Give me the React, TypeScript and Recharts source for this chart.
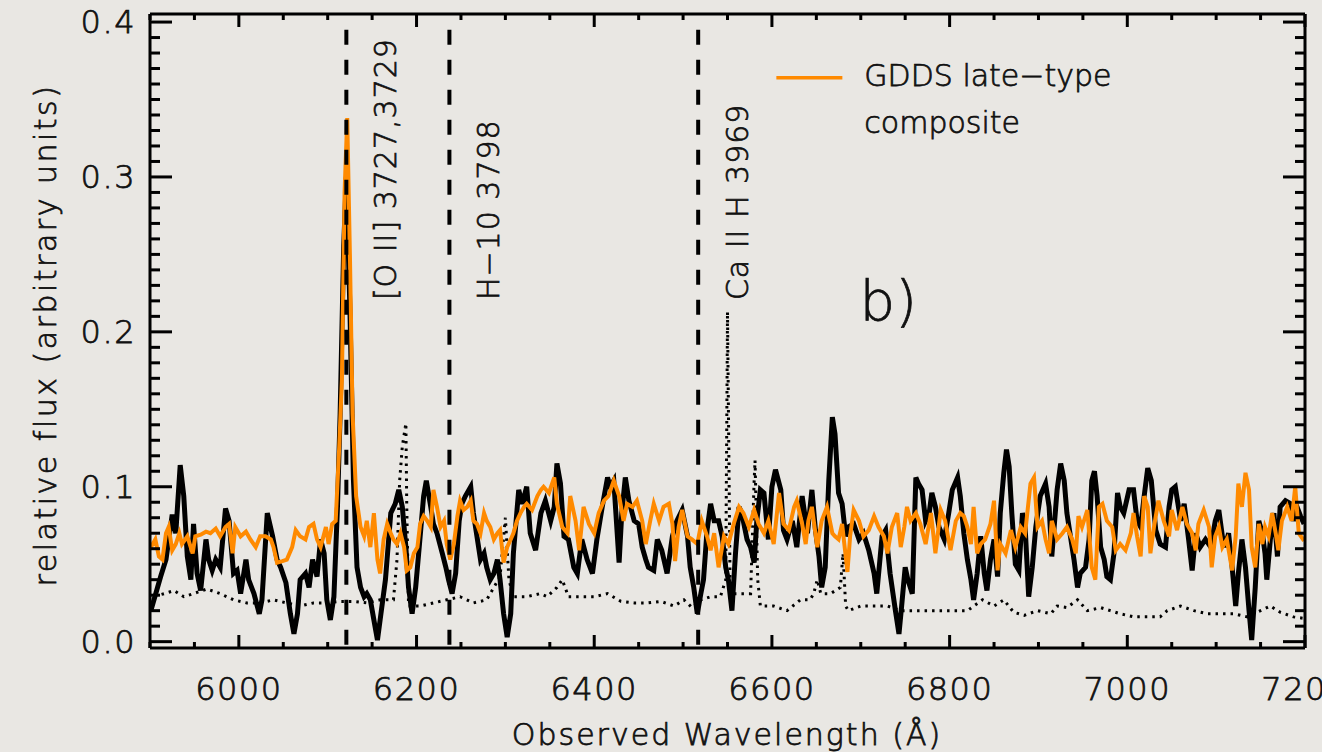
import React from "react";
import { LineChart, Line, XAxis, YAxis, ReferenceLine, ReferenceDot } from "recharts";

const FONT = "'DejaVu Sans', sans-serif";
const INK = "#111";
const ORANGE = "#ff8a00";
const PAPER = "#e9e7e3";

const X_DOMAIN: [number, number] = [5900, 7200];
const Y_DOMAIN: [number, number] = [-0.0041, 0.4052];

const X_TICKS = [
  5900, 5950, 6000, 6050, 6100, 6150, 6200, 6250, 6300, 6350, 6400, 6450, 6500, 6550,
  6600, 6650, 6700, 6750, 6800, 6850, 6900, 6950, 7000, 7050, 7100, 7150, 7200,
];
const X_LABELS = [6000, 6200, 6400, 6600, 6800, 7000, 7200];
const Y_TICKS = [
  0, 0.01, 0.02, 0.03, 0.04, 0.05, 0.06, 0.07, 0.08, 0.09, 0.1, 0.11, 0.12, 0.13, 0.14,
  0.15, 0.16, 0.17, 0.18, 0.19, 0.2, 0.21, 0.22, 0.23, 0.24, 0.25, 0.26, 0.27, 0.28,
  0.29, 0.3, 0.31, 0.32, 0.33, 0.34, 0.35, 0.36, 0.37, 0.38, 0.39, 0.4,
];
const Y_LABELS = [0, 0.1, 0.2, 0.3, 0.4];

// observed spectrum (thick black), [wavelength, flux]
const observed: [number, number][] = [
  [5901, 0.020], [5912, 0.042], [5918, 0.053], [5925, 0.082], [5929, 0.070], [5934, 0.114],
  [5938, 0.094], [5942, 0.055], [5946, 0.040], [5949, 0.076], [5953, 0.044], [5957, 0.033],
  [5963, 0.066], [5966, 0.053], [5970, 0.046], [5974, 0.053], [5979, 0.048], [5985, 0.086],
  [5989, 0.078], [5994, 0.044], [5998, 0.046], [6002, 0.031], [6008, 0.053], [6011, 0.040],
  [6017, 0.031], [6023, 0.018], [6026, 0.027], [6032, 0.083], [6038, 0.068], [6043, 0.053],
  [6047, 0.048], [6053, 0.038], [6058, 0.018], [6062, 0.005], [6066, 0.018], [6069, 0.040],
  [6075, 0.044], [6079, 0.035], [6083, 0.053], [6088, 0.042], [6092, 0.066], [6096, 0.057],
  [6099, 0.027], [6103, 0.014], [6107, 0.029], [6111, 0.087], [6114, 0.147], [6118, 0.255],
  [6121, 0.300], [6125, 0.215], [6129, 0.104], [6133, 0.048], [6137, 0.035], [6141, 0.029],
  [6144, 0.031], [6148, 0.027], [6152, 0.014], [6156, 0.001], [6159, 0.014], [6165, 0.040],
  [6171, 0.083], [6176, 0.089], [6180, 0.098], [6184, 0.087], [6188, 0.061], [6191, 0.035],
  [6195, 0.018], [6199, 0.035], [6203, 0.061], [6208, 0.094], [6211, 0.104], [6216, 0.087],
  [6219, 0.076], [6223, 0.070], [6229, 0.057], [6233, 0.048], [6236, 0.040], [6240, 0.031],
  [6244, 0.044], [6248, 0.078], [6251, 0.089], [6255, 0.094], [6261, 0.100], [6264, 0.083],
  [6268, 0.068], [6272, 0.053], [6276, 0.057], [6279, 0.048], [6283, 0.040], [6287, 0.044],
  [6291, 0.053], [6294, 0.040], [6298, 0.018], [6302, 0.003], [6306, 0.018], [6309, 0.057],
  [6315, 0.098], [6319, 0.089], [6324, 0.100], [6328, 0.070], [6334, 0.059], [6340, 0.083],
  [6345, 0.091], [6351, 0.078], [6355, 0.087], [6358, 0.115], [6362, 0.102], [6366, 0.068],
  [6371, 0.066], [6377, 0.048], [6381, 0.044], [6386, 0.066], [6392, 0.053], [6398, 0.044],
  [6403, 0.066], [6409, 0.087], [6415, 0.106], [6418, 0.100], [6422, 0.104], [6428, 0.051],
  [6431, 0.083], [6435, 0.106], [6439, 0.091], [6445, 0.078], [6450, 0.076], [6454, 0.061],
  [6458, 0.053], [6461, 0.048], [6467, 0.046], [6471, 0.066], [6476, 0.059], [6482, 0.044],
  [6488, 0.068], [6493, 0.078], [6499, 0.085], [6505, 0.068], [6508, 0.048], [6512, 0.035],
  [6516, 0.018], [6520, 0.031], [6523, 0.040], [6527, 0.072], [6531, 0.089], [6535, 0.078],
  [6540, 0.078], [6544, 0.068], [6548, 0.048], [6551, 0.040], [6555, 0.020], [6559, 0.057],
  [6563, 0.087], [6566, 0.083], [6572, 0.066], [6576, 0.061], [6580, 0.051], [6583, 0.078],
  [6587, 0.098], [6591, 0.096], [6596, 0.066], [6600, 0.100], [6604, 0.111], [6610, 0.098],
  [6613, 0.072], [6617, 0.066], [6623, 0.078], [6628, 0.061], [6634, 0.094], [6640, 0.070],
  [6645, 0.098], [6649, 0.072], [6653, 0.055], [6656, 0.035], [6660, 0.048], [6664, 0.104],
  [6668, 0.145], [6671, 0.134], [6675, 0.096], [6679, 0.089], [6683, 0.068], [6686, 0.074],
  [6692, 0.076], [6698, 0.066], [6703, 0.070], [6709, 0.059], [6715, 0.044], [6718, 0.031],
  [6724, 0.068], [6728, 0.072], [6733, 0.044], [6739, 0.020], [6743, 0.005], [6746, 0.023],
  [6750, 0.048], [6753, 0.040], [6758, 0.031], [6762, 0.106], [6765, 0.102], [6769, 0.098],
  [6773, 0.078], [6777, 0.083], [6780, 0.096], [6784, 0.087], [6788, 0.074], [6794, 0.066],
  [6799, 0.083], [6803, 0.098], [6809, 0.106], [6812, 0.094], [6816, 0.070], [6820, 0.053],
  [6824, 0.040], [6827, 0.027], [6831, 0.044], [6835, 0.068], [6839, 0.044], [6842, 0.033],
  [6846, 0.053], [6850, 0.066], [6854, 0.042], [6857, 0.083], [6861, 0.109], [6864, 0.124],
  [6867, 0.113], [6870, 0.083], [6874, 0.050], [6878, 0.046], [6882, 0.083], [6885, 0.074],
  [6889, 0.029], [6893, 0.048], [6897, 0.074], [6902, 0.094], [6908, 0.102], [6912, 0.087],
  [6915, 0.055], [6921, 0.098], [6925, 0.115], [6929, 0.104], [6932, 0.083], [6936, 0.068],
  [6940, 0.053], [6944, 0.035], [6947, 0.044], [6953, 0.048], [6957, 0.066], [6960, 0.104],
  [6963, 0.110], [6966, 0.094], [6970, 0.061], [6974, 0.053], [6977, 0.042], [6981, 0.040],
  [6985, 0.057], [6989, 0.096], [6992, 0.087], [6996, 0.083], [7002, 0.098], [7007, 0.098],
  [7011, 0.078], [7015, 0.074], [7019, 0.094], [7023, 0.112], [7027, 0.104], [7032, 0.072],
  [7037, 0.063], [7043, 0.061], [7047, 0.087], [7050, 0.098], [7054, 0.100], [7060, 0.078],
  [7064, 0.089], [7069, 0.066], [7073, 0.046], [7077, 0.070], [7082, 0.061], [7088, 0.066],
  [7094, 0.061], [7099, 0.078], [7103, 0.085], [7107, 0.068], [7110, 0.061], [7114, 0.070],
  [7118, 0.048], [7122, 0.023], [7125, 0.044], [7129, 0.066], [7133, 0.048], [7137, 0.020],
  [7140, 0.001], [7144, 0.035], [7148, 0.078], [7152, 0.070], [7155, 0.057], [7157, 0.040],
  [7161, 0.066], [7165, 0.083], [7169, 0.055], [7172, 0.087], [7178, 0.091], [7184, 0.089],
  [7187, 0.078], [7191, 0.087], [7195, 0.081], [7199, 0.076],
];

// GDDS late-type composite (orange)
const composite: [number, number][] = [
  [5901, 0.061], [5906, 0.066], [5910, 0.055], [5914, 0.053], [5918, 0.070], [5921, 0.074],
  [5925, 0.059], [5929, 0.063], [5933, 0.070], [5936, 0.063], [5942, 0.068], [5948, 0.057],
  [5951, 0.068], [5957, 0.069], [5963, 0.071], [5968, 0.070], [5974, 0.073], [5979, 0.068],
  [5985, 0.074], [5989, 0.076], [5993, 0.057], [5996, 0.074], [6002, 0.068], [6008, 0.071],
  [6013, 0.066], [6019, 0.061], [6024, 0.068], [6030, 0.068], [6036, 0.066], [6039, 0.061],
  [6043, 0.051], [6049, 0.052], [6054, 0.053], [6060, 0.061], [6064, 0.072], [6069, 0.068],
  [6075, 0.066], [6079, 0.074], [6084, 0.076], [6088, 0.066], [6092, 0.061], [6098, 0.074],
  [6101, 0.063], [6105, 0.076], [6109, 0.078], [6113, 0.126], [6116, 0.169], [6119, 0.290],
  [6122, 0.338], [6125, 0.250], [6128, 0.147], [6132, 0.094], [6137, 0.074], [6141, 0.068],
  [6144, 0.078], [6148, 0.061], [6152, 0.083], [6156, 0.053], [6159, 0.044], [6163, 0.066],
  [6167, 0.076], [6171, 0.070], [6174, 0.066], [6178, 0.063], [6182, 0.070], [6186, 0.061],
  [6189, 0.046], [6193, 0.048], [6197, 0.057], [6201, 0.061], [6204, 0.076], [6208, 0.081],
  [6212, 0.078], [6216, 0.074], [6219, 0.098], [6223, 0.087], [6227, 0.074], [6231, 0.078],
  [6234, 0.063], [6238, 0.053], [6242, 0.063], [6246, 0.081], [6249, 0.091], [6253, 0.085],
  [6257, 0.087], [6261, 0.091], [6264, 0.078], [6268, 0.076], [6272, 0.070], [6276, 0.083],
  [6279, 0.078], [6283, 0.074], [6287, 0.066], [6291, 0.070], [6294, 0.072], [6298, 0.051],
  [6302, 0.061], [6306, 0.066], [6309, 0.070], [6313, 0.078], [6317, 0.083], [6321, 0.087],
  [6324, 0.089], [6330, 0.085], [6336, 0.094], [6340, 0.098], [6343, 0.100], [6349, 0.096],
  [6355, 0.106], [6358, 0.089], [6364, 0.074], [6370, 0.070], [6373, 0.094], [6379, 0.078],
  [6383, 0.059], [6388, 0.087], [6394, 0.076], [6400, 0.070], [6405, 0.083], [6411, 0.091],
  [6416, 0.094], [6422, 0.104], [6428, 0.094], [6433, 0.078], [6437, 0.089], [6443, 0.087],
  [6448, 0.091], [6454, 0.078], [6458, 0.063], [6463, 0.078], [6467, 0.089], [6473, 0.078],
  [6478, 0.087], [6484, 0.089], [6488, 0.076], [6491, 0.052], [6495, 0.074], [6499, 0.085],
  [6505, 0.068], [6510, 0.066], [6516, 0.063], [6521, 0.078], [6527, 0.068], [6531, 0.059],
  [6535, 0.070], [6540, 0.048], [6546, 0.068], [6551, 0.063], [6557, 0.076], [6563, 0.087],
  [6568, 0.083], [6574, 0.074], [6580, 0.085], [6585, 0.076], [6591, 0.070], [6596, 0.078],
  [6602, 0.063], [6608, 0.096], [6613, 0.076], [6619, 0.072], [6625, 0.087], [6628, 0.091],
  [6634, 0.076], [6638, 0.063], [6641, 0.078], [6645, 0.087], [6651, 0.061], [6656, 0.078],
  [6662, 0.087], [6668, 0.070], [6671, 0.068], [6675, 0.066], [6679, 0.076], [6685, 0.045],
  [6688, 0.068], [6692, 0.085], [6698, 0.078], [6703, 0.068], [6709, 0.072], [6715, 0.081],
  [6720, 0.074], [6726, 0.068], [6730, 0.057], [6735, 0.074], [6741, 0.083], [6745, 0.061],
  [6749, 0.074], [6752, 0.087], [6756, 0.078], [6762, 0.083], [6767, 0.076], [6773, 0.063],
  [6779, 0.083], [6784, 0.057], [6790, 0.085], [6795, 0.078], [6801, 0.059], [6807, 0.078],
  [6812, 0.083], [6816, 0.081], [6820, 0.074], [6824, 0.063], [6827, 0.087], [6831, 0.057],
  [6835, 0.063], [6840, 0.066], [6846, 0.076], [6850, 0.091], [6854, 0.046], [6857, 0.063],
  [6863, 0.057], [6869, 0.072], [6874, 0.061], [6880, 0.074], [6885, 0.070], [6891, 0.102],
  [6895, 0.106], [6899, 0.074], [6904, 0.078], [6908, 0.066], [6912, 0.057], [6915, 0.078],
  [6921, 0.066], [6927, 0.070], [6932, 0.074], [6938, 0.066], [6942, 0.057], [6945, 0.081],
  [6949, 0.074], [6955, 0.085], [6960, 0.048], [6964, 0.040], [6968, 0.087], [6972, 0.089],
  [6977, 0.078], [6983, 0.074], [6987, 0.059], [6992, 0.063], [6998, 0.059], [7004, 0.070],
  [7007, 0.083], [7011, 0.068], [7015, 0.055], [7019, 0.094], [7023, 0.087], [7026, 0.057],
  [7030, 0.074], [7035, 0.091], [7041, 0.078], [7047, 0.068], [7050, 0.085], [7056, 0.072],
  [7062, 0.087], [7067, 0.076], [7073, 0.070], [7077, 0.059], [7080, 0.076], [7086, 0.085],
  [7092, 0.074], [7095, 0.048], [7099, 0.068], [7103, 0.074], [7107, 0.061], [7112, 0.066],
  [7118, 0.046], [7122, 0.068], [7125, 0.102], [7129, 0.087], [7133, 0.109], [7137, 0.098],
  [7140, 0.061], [7144, 0.048], [7148, 0.076], [7152, 0.063], [7155, 0.074], [7159, 0.068],
  [7163, 0.083], [7167, 0.070], [7170, 0.059], [7174, 0.078], [7180, 0.087], [7185, 0.078],
  [7189, 0.100], [7193, 0.070], [7199, 0.065],
];

// noise spectrum (dotted)
const noise: [number, number][] = [
  [5901, 0.020], [5904, 0.029], [5916, 0.031], [5927, 0.033], [5938, 0.029], [5949, 0.031],
  [5964, 0.034], [5979, 0.031], [5994, 0.027], [6009, 0.025], [6024, 0.025], [6039, 0.027],
  [6054, 0.025], [6069, 0.023], [6084, 0.025], [6099, 0.025], [6114, 0.026], [6129, 0.026],
  [6144, 0.025], [6159, 0.027], [6174, 0.027], [6178, 0.053], [6181, 0.104], [6184, 0.126],
  [6188, 0.141], [6189, 0.087], [6191, 0.023], [6204, 0.023], [6219, 0.025], [6234, 0.027],
  [6249, 0.029], [6264, 0.025], [6279, 0.027], [6287, 0.035], [6294, 0.042], [6300, 0.080],
  [6304, 0.040], [6309, 0.029], [6324, 0.029], [6339, 0.031], [6347, 0.029], [6358, 0.035],
  [6364, 0.040], [6371, 0.029], [6385, 0.029], [6400, 0.029], [6415, 0.031], [6430, 0.026],
  [6445, 0.025], [6460, 0.025], [6475, 0.026], [6490, 0.023], [6501, 0.027], [6510, 0.022],
  [6520, 0.027], [6531, 0.029], [6542, 0.029], [6548, 0.040], [6550, 0.213], [6553, 0.031],
  [6564, 0.031], [6576, 0.031], [6580, 0.104], [6581, 0.117], [6584, 0.040], [6587, 0.023],
  [6602, 0.023], [6617, 0.020], [6632, 0.027], [6643, 0.027], [6647, 0.031], [6651, 0.040],
  [6655, 0.031], [6666, 0.031], [6677, 0.035], [6680, 0.057], [6683, 0.023], [6686, 0.020],
  [6700, 0.023], [6715, 0.023], [6730, 0.023], [6745, 0.020], [6760, 0.020], [6775, 0.020],
  [6790, 0.020], [6805, 0.020], [6820, 0.020], [6837, 0.027], [6850, 0.023], [6861, 0.027],
  [6872, 0.019], [6884, 0.017], [6899, 0.020], [6914, 0.018], [6921, 0.023], [6932, 0.022],
  [6944, 0.027], [6955, 0.020], [6970, 0.022], [6981, 0.020], [6992, 0.018], [7007, 0.016],
  [7022, 0.016], [7037, 0.016], [7045, 0.020], [7060, 0.023], [7075, 0.020], [7090, 0.018],
  [7105, 0.018], [7120, 0.018], [7135, 0.016], [7150, 0.020], [7161, 0.023], [7172, 0.019],
  [7187, 0.016], [7199, 0.015],
];

// rest-frame features marked with dashed lines
const FEATURES = [
  { label: "[O II] 3727,3729", wave: 6121 },
  { label: "H\u221210 3798", wave: 6237 },
  { label: "Ca II H 3969", wave: 6517 },
];
const FEATURE_TOP = 0.395;
const FEATURE_TEXT_Y = 0.2205;

const LEGEND_LINES = ["GDDS late\u2212type", "composite"];
const LEGEND_AT = { wave: 6605, flux: 0.364 };
const PANEL_TAG = { text: "b)", wave: 6731, flux: 0.2205 };

const toRows = (pts: [number, number][]) => pts.map(([w, f]) => ({ w, f }));
const observedRows = toRows(observed);
const compositeRows = toRows(composite);
const noiseRows = toRows(noise);

const isMajorY = (v: number) => Y_LABELS.some((m) => Math.abs(m - v) < 1e-9);

// thin face, thickened a little with a stroke so it reads as dark as the original
const textStyle = {
  fontFamily: FONT,
  fill: INK,
  fontWeight: 200,
  stroke: INK,
  strokeWidth: 0.75,
};

function BottomTick(props: any) {
  const { x, y, payload } = props;
  const major = X_LABELS.includes(payload.value);
  return (
    <g>
      <line x1={x} x2={x} y1={y} y2={y - (major ? 13 : 6)} stroke="#000" strokeWidth={3} />
      {major && (
        <text x={x} y={y + 52} textAnchor="middle" fontSize={32} letterSpacing={1.5} {...textStyle}>
          {payload.value}
        </text>
      )}
    </g>
  );
}

function TopTick(props: any) {
  const { x, y, payload } = props;
  const major = X_LABELS.includes(payload.value);
  return <line x1={x} x2={x} y1={y} y2={y + (major ? 13 : 6)} stroke="#000" strokeWidth={3} />;
}

function LeftTick(props: any) {
  const { x, y, payload } = props;
  const major = isMajorY(payload.value);
  return (
    <g>
      <line x1={x} x2={x + (major ? 22 : 10)} y1={y} y2={y} stroke="#000" strokeWidth={3} />
      {major && (
        <text x={x - 14} y={y + 11} textAnchor="end" fontSize={32} letterSpacing={1.5} {...textStyle}>
          {payload.value.toFixed(1)}
        </text>
      )}
    </g>
  );
}

function RightTick(props: any) {
  const { x, y, payload } = props;
  const major = isMajorY(payload.value);
  return <line x1={x} x2={x - (major ? 22 : 10)} y1={y} y2={y} stroke="#000" strokeWidth={3} />;
}

const featureLabel = (text: string) => (props: any) => {
  const vb = props.viewBox || { x: 0, y: 0, width: 0, height: 0 };
  const cx = vb.x + vb.width / 2 + 39;
  const cy = vb.y + vb.height / 2;
  return (
    <text
      x={cx}
      y={cy}
      transform={`rotate(-90 ${cx} ${cy})`}
      dominantBaseline="central"
      fontSize={30}
      letterSpacing={1}
      {...textStyle}
    >
      {text}
    </text>
  );
};

const legendLabel = (props: any) => {
  const vb = props.viewBox || { x: 0, y: 0, width: 0, height: 0 };
  const x = vb.x + vb.width / 2;
  const y = vb.y + vb.height / 2;
  return (
    <g>
      <line x1={x} x2={x + 66} y1={y} y2={y} stroke={ORANGE} strokeWidth={3.5} />
      {LEGEND_LINES.map((t, i) => (
        <text key={t} x={x + 88} y={y + 8 + i * 47} fontSize={30} {...textStyle}>
          {t}
        </text>
      ))}
    </g>
  );
};

const tagLabel = (props: any) => {
  const vb = props.viewBox || { x: 0, y: 0, width: 0, height: 0 };
  const x = vb.x + vb.width / 2;
  const y = vb.y + vb.height / 2;
  return (
    <text x={x} y={y} textAnchor="middle" dominantBaseline="central" fontSize={56} {...textStyle}>
      {PANEL_TAG.text}
    </text>
  );
};

export default function App() {
  const axisLine = { stroke: "#000", strokeWidth: 3 };
  return (
    <div style={{ position: "absolute", left: 0, top: 0, width: 1322, height: 752, background: PAPER }}>
      <LineChart width={1322} height={752} margin={{ top: 0, right: 0, bottom: 0, left: 0 }}>
        <XAxis
          xAxisId="b"
          type="number"
          dataKey="w"
          domain={X_DOMAIN}
          allowDataOverflow
          ticks={X_TICKS}
          interval={0}
          tickSize={0}
          tickMargin={0}
          tickLine={false}
          axisLine={axisLine}
          tick={<BottomTick />}
          height={104}
          label={() => (
            <text x={727} y={745} textAnchor="middle" fontSize={30} letterSpacing={2} {...textStyle}>
              Observed Wavelength (Å)
            </text>
          )}
        />
        <XAxis
          xAxisId="t"
          orientation="top"
          type="number"
          dataKey="w"
          domain={X_DOMAIN}
          allowDataOverflow
          ticks={X_TICKS}
          interval={0}
          tickSize={0}
          tickMargin={0}
          tickLine={false}
          axisLine={axisLine}
          tick={<TopTick />}
          height={14}
        />
        <YAxis
          yAxisId="l"
          type="number"
          domain={Y_DOMAIN}
          allowDataOverflow
          ticks={Y_TICKS}
          interval={0}
          tickSize={0}
          tickMargin={0}
          tickLine={false}
          axisLine={axisLine}
          tick={<LeftTick />}
          width={150}
          label={() => (
            <text
              x={45}
              y={335}
              transform="rotate(-90 45 335)"
              textAnchor="middle"
              dominantBaseline="central"
              fontSize={30}
              letterSpacing={2.5}
              {...textStyle}
            >
              relative flux (arbitrary units)
            </text>
          )}
        />
        <YAxis
          yAxisId="r"
          orientation="right"
          type="number"
          domain={Y_DOMAIN}
          allowDataOverflow
          ticks={Y_TICKS}
          interval={0}
          tickSize={0}
          tickMargin={0}
          tickLine={false}
          axisLine={axisLine}
          tick={<RightTick />}
          width={17}
        />

        <Line
          xAxisId="b"
          yAxisId="l"
          data={noiseRows}
          dataKey="f"
          type="linear"
          stroke="#000"
          strokeWidth={3}
          strokeDasharray="2.5 5"
          dot={false}
          isAnimationActive={false}
        />
        <Line
          xAxisId="b"
          yAxisId="l"
          data={observedRows}
          dataKey="f"
          type="linear"
          stroke="#000"
          strokeWidth={5}
          dot={false}
          isAnimationActive={false}
        />
        <Line
          xAxisId="b"
          yAxisId="l"
          data={compositeRows}
          dataKey="f"
          type="linear"
          stroke={ORANGE}
          strokeWidth={4}
          dot={false}
          isAnimationActive={false}
        />

        {FEATURES.map((f) => (
          <ReferenceLine
            key={f.label}
            xAxisId="b"
            yAxisId="l"
            segment={[
              { x: f.wave, y: FEATURE_TOP },
              { x: f.wave, y: Y_DOMAIN[0] },
            ]}
            stroke="#000"
            strokeWidth={4}
            strokeDasharray="15 15"
            ifOverflow="hidden"
          />
        ))}
        {FEATURES.map((f) => (
          <ReferenceDot
            key={f.label + "-t"}
            xAxisId="b"
            yAxisId="l"
            x={f.wave}
            y={FEATURE_TEXT_Y}
            r={0}
            fill="none"
            stroke="none"
            label={featureLabel(f.label)}
          />
        ))}
        <ReferenceDot
          xAxisId="b"
          yAxisId="l"
          x={LEGEND_AT.wave}
          y={LEGEND_AT.flux}
          r={0}
          fill="none"
          stroke="none"
          label={legendLabel}
        />
        <ReferenceDot
          xAxisId="b"
          yAxisId="l"
          x={PANEL_TAG.wave}
          y={PANEL_TAG.flux}
          r={0}
          fill="none"
          stroke="none"
          label={tagLabel}
        />
      </LineChart>
    </div>
  );
}
